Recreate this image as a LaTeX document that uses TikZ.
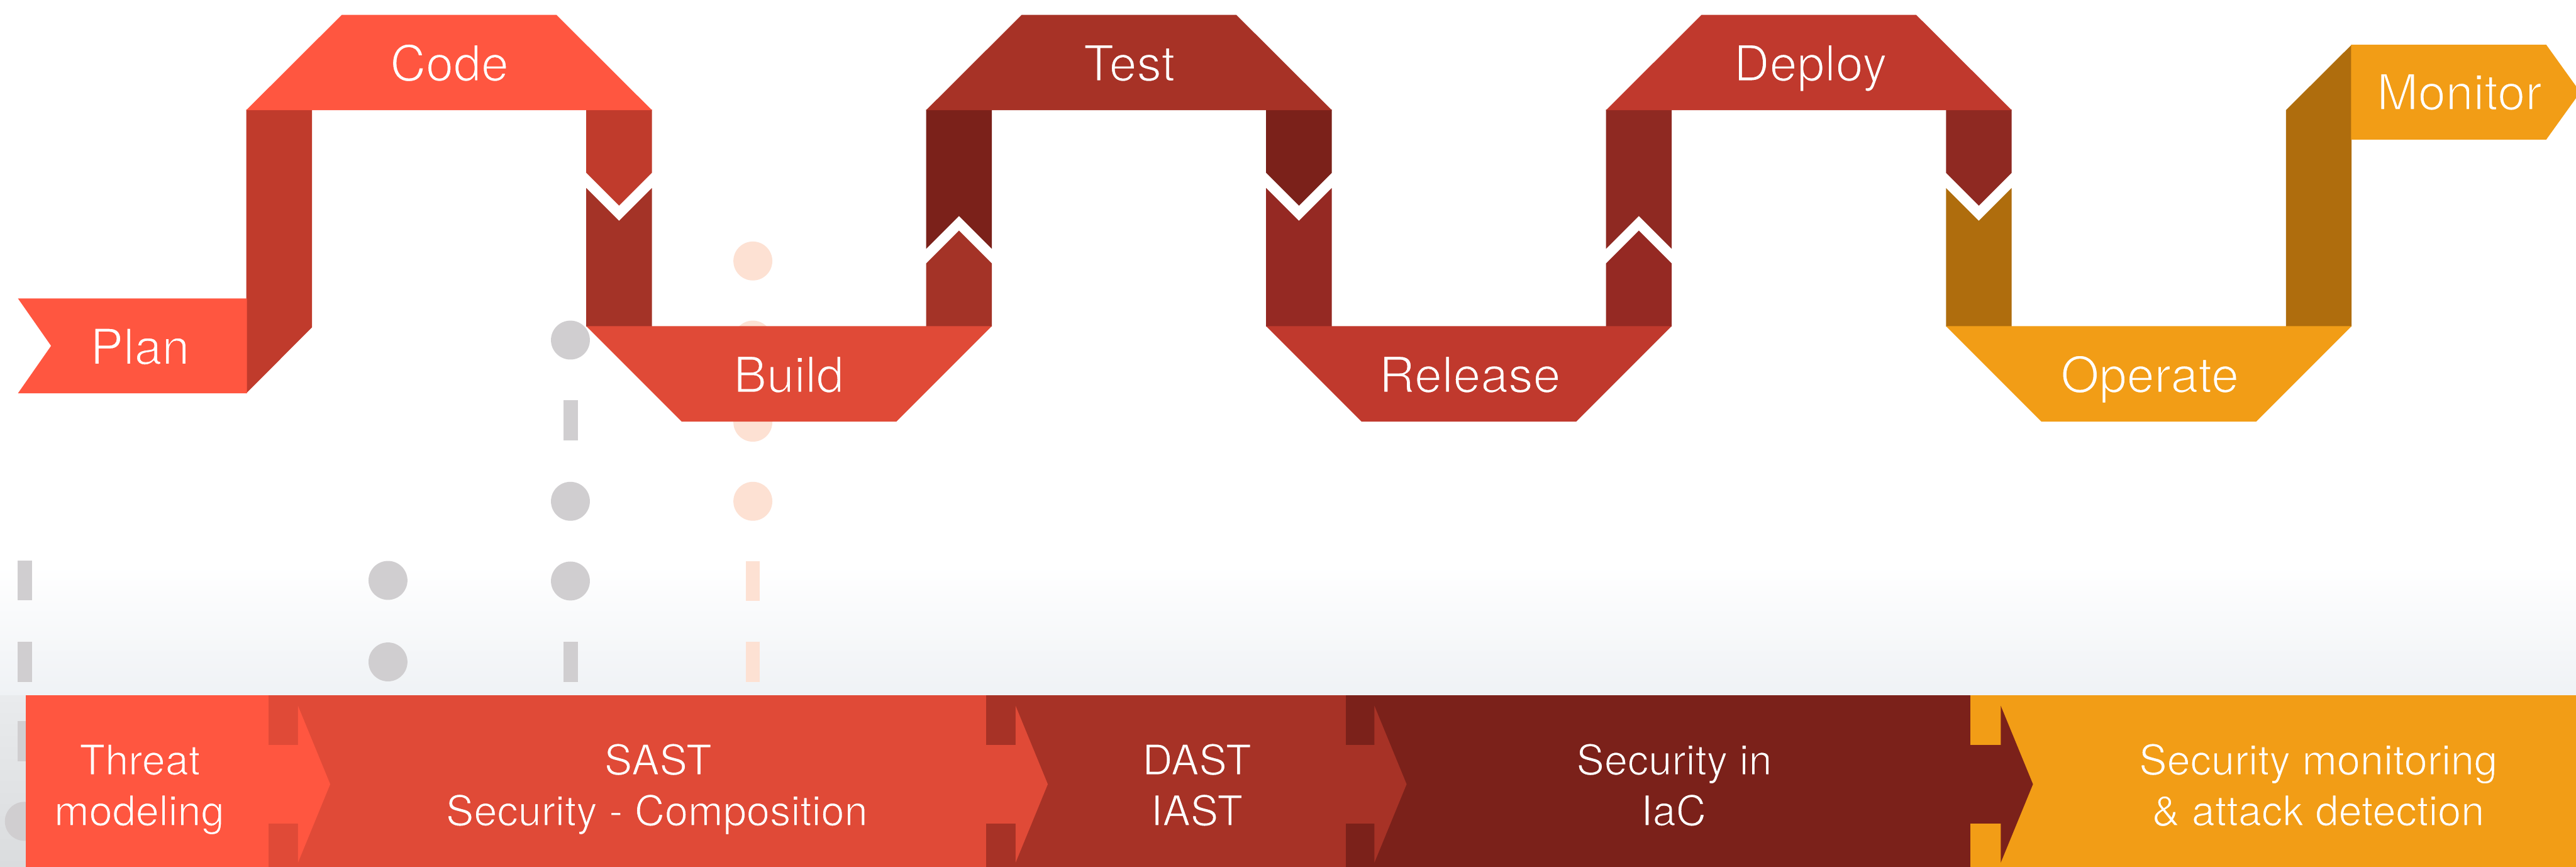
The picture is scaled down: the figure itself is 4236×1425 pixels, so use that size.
\documentclass[tikz,border=0pt]{standalone}
\usepackage{fontspec}
\setmainfont{TeX Gyre Heros}

% ribbon palette
\definecolor{cPlan}{HTML}{FF5640}
\definecolor{cBuild}{HTML}{E04A37}
\definecolor{cTest}{HTML}{A73226}
\definecolor{cRel}{HTML}{C0392D}
\definecolor{cOps}{HTML}{F29D16}
% shades used on the vertical legs
\definecolor{sA}{HTML}{C03B2C}
\definecolor{sB}{HTML}{A43327}
\definecolor{sC}{HTML}{7B211A}
\definecolor{sD}{HTML}{952923}
\definecolor{sE}{HTML}{8F2922}
\definecolor{sF}{HTML}{AF6D0D}
% faded background marks
\definecolor{dotGray}{HTML}{D0CED0}
\definecolor{dotPeach}{HTML}{FDE1D3}
\definecolor{hazeLow}{HTML}{EFF2F5}
\definecolor{hazeEdgeA}{HTML}{E9EBED}
\definecolor{hazeEdgeB}{HTML}{DADCDE}

% Light-weight lettering: white glyphs whose outline is stroked in the
% colour of the band beneath, which slims every stem.
% #1 = stroke width (bp), #2 = band colour as "r g b", #3 = text
\newcommand\slimText[3]{%
  \special{pdf:literal direct q 2 Tr #1 w #2 RG}#3\special{pdf:literal direct Q}}
\def\rgbPlan{1 0.337 0.251}
\def\rgbBuild{0.878 0.290 0.216}
\def\rgbTest{0.655 0.196 0.149}
\def\rgbRel{0.753 0.224 0.176}
\def\rgbOps{0.949 0.616 0.086}
\def\rgbIac{0.482 0.129 0.102}
\newcommand\topText[2]{\slimText{0.62}{#1}{#2}}
\newcommand\barText[2]{\slimText{0.45}{#1}{#2}}

\tikzset{
  toplabel/.style={anchor=base, text=white, inner sep=0pt,
    font=\fontsize{23.2}{27.8}\selectfont},
  barlabel/.style={anchor=base, text=white, inner sep=0pt,
    font=\fontsize{19.6}{23.5}\selectfont},
  grayDot/.style={fill=dotGray},
  peachDot/.style={fill=dotPeach},
}

\begin{document}
\begin{tikzpicture}[x=0.01cm,y=-0.01cm]
\useasboundingbox (0,0) rectangle (4236,1425);
\fill[white] (0,0) rectangle (4236,1425);

% soft haze above the bottom bar
\shade[top color=white, bottom color=hazeLow] (0,930) rectangle (4236,1144);
\shade[top color=hazeEdgeA, bottom color=hazeEdgeB] (0,1143) rectangle (43,1425);

% faded station marks in the background
\foreach \y in {954,1088,1218} \fill[grayDot] (29,\y-33) rectangle (53,\y+33);
\fill[grayDot] (40,1350) circle[radius=32];
\foreach \y in {954,1088} \fill[grayDot] (638,\y) circle[radius=32];
\foreach \y in {559,824,955} \fill[grayDot] (938,\y) circle[radius=32];
\foreach \y in {691,1088} \fill[grayDot] (927,\y-33) rectangle (950,\y+33);
\foreach \y in {429,559,694,824} \fill[peachDot] (1238,\y) circle[radius=32];
\foreach \y in {955,1088} \fill[peachDot] (1227,\y-33) rectangle (1249,\y+33);

% ---------------- vertical legs ----------------
% Plan -> Code
\fill[sA] (405,180) -- (513,180) -- (513,538) -- (405,646.5) -- cycle;
% Code -> Build (down chevron)
\fill[sA] (964,180) -- (1072,180) -- (1072,284) -- (1018,338) -- (964,284) -- cycle;
\fill[sB] (964,309) -- (1018,363) -- (1072,309) -- (1072,537) -- (964,537) -- cycle;
% Build -> Test (up chevron)
\fill[sB] (1523,537) -- (1523,433) -- (1577,379) -- (1631,433) -- (1631,537) -- cycle;
\fill[sC] (1523,180) -- (1631,180) -- (1631,409) -- (1577,355) -- (1523,409) -- cycle;
% Test -> Release (down chevron)
\fill[sC] (2082,180) -- (2190,180) -- (2190,284) -- (2136,338) -- (2082,284) -- cycle;
\fill[sD] (2082,309) -- (2136,363) -- (2190,309) -- (2190,537) -- (2082,537) -- cycle;
% Release -> Deploy (up chevron)
\fill[sD] (2641,537) -- (2641,433) -- (2695,379) -- (2749,433) -- (2749,537) -- cycle;
\fill[sE] (2641,180) -- (2749,180) -- (2749,409) -- (2695,355) -- (2641,409) -- cycle;
% Deploy -> Operate (down chevron)
\fill[sE] (3200,180) -- (3308,180) -- (3308,284) -- (3254,338) -- (3200,284) -- cycle;
\fill[sF] (3200,309) -- (3254,363) -- (3308,309) -- (3308,537) -- (3200,537) -- cycle;
% Operate -> Monitor
\fill[sF] (3759,537) -- (3759,181) -- (3867,73.5) -- (3867,537) -- cycle;

% ---------------- stage bands ----------------
\fill[cPlan] (29.5,490.5) -- (406,490.5) -- (406,646.5) -- (29.5,646.5) -- (84,568.5) -- cycle;
\fill[cPlan] (405,181) -- (562,24.5) -- (915,24.5) -- (1072,181) -- cycle;
\fill[cBuild] (964,536) -- (1631,536) -- (1474,693) -- (1121,693) -- cycle;
\fill[cTest] (1523,181) -- (1680,24.5) -- (2033,24.5) -- (2190,181) -- cycle;
\fill[cRel] (2082,536) -- (2749,536) -- (2592,693) -- (2239,693) -- cycle;
\fill[cRel] (2641,181) -- (2798,24.5) -- (3151,24.5) -- (3308,181) -- cycle;
\fill[cOps] (3200,536) -- (3867,536) -- (3710,693) -- (3357,693) -- cycle;
\fill[cOps] (3866,73.5) -- (4187,73.5) -- (4243,151.5) -- (4187,229.5) -- (3866,229.5) -- cycle;

\node[toplabel] (plan)    at (230,599)    {\topText{\rgbPlan}{Plan}};
\node[toplabel] (code)    at (739,133)    {\topText{\rgbPlan}{Code}};
\node[toplabel] (build)   at (1297,645)   {\topText{\rgbBuild}{Build}};
\node[toplabel] (test)    at (1857,133)   {\topText{\rgbTest}{Test}};
\node[toplabel] (release) at (2417,645)   {\topText{\rgbRel}{Release}};
\node[toplabel] (deploy)  at (2977,133)   {\topText{\rgbRel}{Deploy}};
\node[toplabel] (operate) at (3535,645)   {\topText{\rgbOps}{Operate}};
\node[toplabel] (monitor) at (4044,180.5) {\topText{\rgbOps}{Monitor}};

% ---------------- security bar ----------------
\fill[cPlan]  (42,1143)   rectangle (443,1425);
\fill[cBuild] (442,1143)  rectangle (1623,1425);
\fill[cTest]  (1622,1143) rectangle (2214,1425);
\fill[sC]     (2213,1143) rectangle (3241,1425);
\fill[cOps]   (3240,1143) rectangle (4236,1425);

% arrows carrying each stage into the next
\fill[cPlan]  (441,1224) rectangle (491,1354);
\fill[cPlan]  (490,1160) -- (543,1289) -- (490,1418) -- cycle;
\fill[cBuild] (1621,1224) rectangle (1671,1354);
\fill[cBuild] (1670,1160) -- (1723,1289) -- (1670,1418) -- cycle;
\fill[cTest]  (2212,1224) rectangle (2261,1354);
\fill[cTest]  (2260,1160) -- (2313,1289) -- (2260,1418) -- cycle;
\fill[sC]     (3239,1224) rectangle (3291,1354);
\fill[sC]     (3290,1160) -- (3343,1289) -- (3290,1418) -- cycle;

\node[barlabel] (threatA) at (230,1273.5)  {\barText{\rgbPlan}{Threat}};
\node[barlabel] (threatB) at (229,1357)    {\barText{\rgbPlan}{modeling}};
\node[barlabel] (sastA)   at (1082,1273.5) {\barText{\rgbBuild}{SAST}};
\node[barlabel] (sastB)   at (1080,1357)   {\barText{\rgbBuild}{Security - Composition}};
\node[barlabel] (dastA)   at (1968,1273.5) {\barText{\rgbTest}{DAST}};
\node[barlabel] (dastB)   at (1968,1357)   {\barText{\rgbTest}{IAST}};
\node[barlabel] (iacA)    at (2753,1273.5) {\barText{\rgbIac}{Security in}};
\node[barlabel] (iacB)    at (2752,1357)   {\barText{\rgbIac}{IaC}};
\node[barlabel] (monA)    at (3812,1273.5) {\barText{\rgbOps}{Security monitoring}};
\node[barlabel] (monB)    at (3812,1357)   {\barText{\rgbOps}{\& attack detection}};
\end{tikzpicture}
\end{document}
